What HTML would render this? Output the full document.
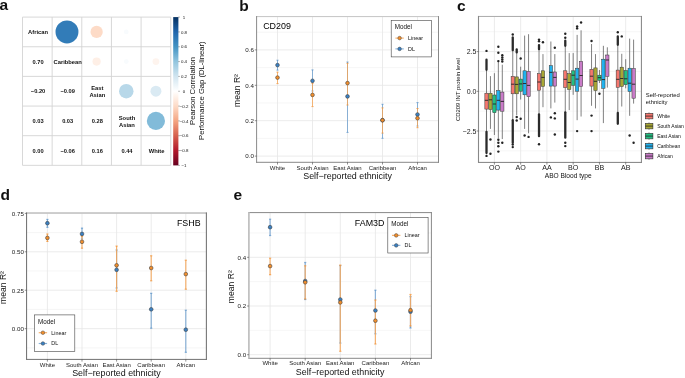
<!DOCTYPE html>
<html><head><meta charset="utf-8"><style>
html,body{margin:0;padding:0;background:#fff;}
svg{display:block;font-family:"Liberation Sans", sans-serif;will-change:transform;}
</style></head><body>
<svg width="685" height="378" viewBox="0 0 685 378">
<rect x="0" y="0" width="685" height="378" fill="#fff"/>
<text x="-0.60" y="10.20" font-size="15.5" text-anchor="start" font-weight="bold" fill="#111" >a</text>
<text x="239.20" y="10.60" font-size="15.5" text-anchor="start" font-weight="bold" fill="#111" >b</text>
<text x="457.00" y="10.70" font-size="15.5" text-anchor="start" font-weight="bold" fill="#111" >c</text>
<text x="0.60" y="200.30" font-size="15.5" text-anchor="start" font-weight="bold" fill="#111" >d</text>
<text x="233.60" y="200.40" font-size="15.5" text-anchor="start" font-weight="bold" fill="#111" >e</text>
<circle cx="66.97" cy="31.93" r="11.46" fill="#327cb8" stroke="none" stroke-width="0" />
<circle cx="96.62" cy="31.93" r="6.13" fill="#fddbc7" stroke="none" stroke-width="0" />
<circle cx="126.27" cy="31.93" r="2.37" fill="#f8fbfd" stroke="none" stroke-width="0" />
<circle cx="96.62" cy="61.57" r="4.11" fill="#feefe6" stroke="none" stroke-width="0" />
<circle cx="126.27" cy="61.57" r="2.37" fill="#f8fbfd" stroke="none" stroke-width="0" />
<circle cx="155.92" cy="61.57" r="3.36" fill="#fef4ee" stroke="none" stroke-width="0" />
<circle cx="126.27" cy="91.22" r="7.25" fill="#b8d8e9" stroke="none" stroke-width="0" />
<circle cx="155.92" cy="91.22" r="5.48" fill="#daeaf3" stroke="none" stroke-width="0" />
<circle cx="155.92" cy="120.88" r="9.09" fill="#82bbd9" stroke="none" stroke-width="0" />
<line x1="22.50" y1="17.10" x2="22.50" y2="165.35" stroke="#d4d4d4" stroke-width="0.9" />
<line x1="22.50" y1="17.10" x2="170.75" y2="17.10" stroke="#d4d4d4" stroke-width="0.9" />
<line x1="52.15" y1="17.10" x2="52.15" y2="165.35" stroke="#d4d4d4" stroke-width="0.9" />
<line x1="22.50" y1="46.75" x2="170.75" y2="46.75" stroke="#d4d4d4" stroke-width="0.9" />
<line x1="81.80" y1="17.10" x2="81.80" y2="165.35" stroke="#d4d4d4" stroke-width="0.9" />
<line x1="22.50" y1="76.40" x2="170.75" y2="76.40" stroke="#d4d4d4" stroke-width="0.9" />
<line x1="111.45" y1="17.10" x2="111.45" y2="165.35" stroke="#d4d4d4" stroke-width="0.9" />
<line x1="22.50" y1="106.05" x2="170.75" y2="106.05" stroke="#d4d4d4" stroke-width="0.9" />
<line x1="141.10" y1="17.10" x2="141.10" y2="165.35" stroke="#d4d4d4" stroke-width="0.9" />
<line x1="22.50" y1="135.70" x2="170.75" y2="135.70" stroke="#d4d4d4" stroke-width="0.9" />
<line x1="170.75" y1="17.10" x2="170.75" y2="165.35" stroke="#d4d4d4" stroke-width="0.9" />
<line x1="22.50" y1="165.35" x2="170.75" y2="165.35" stroke="#d4d4d4" stroke-width="0.9" />
<text x="38.03" y="34.02" font-size="5.8" text-anchor="middle" font-weight="bold" fill="#111" >African</text>
<text x="67.67" y="63.67" font-size="5.8" text-anchor="middle" font-weight="bold" fill="#111" >Caribbean</text>
<text x="97.33" y="89.92" font-size="5.8" text-anchor="middle" font-weight="bold" fill="#111" >East</text>
<text x="97.33" y="96.92" font-size="5.8" text-anchor="middle" font-weight="bold" fill="#111" >Asian</text>
<text x="126.97" y="119.58" font-size="5.8" text-anchor="middle" font-weight="bold" fill="#111" >South</text>
<text x="126.97" y="126.58" font-size="5.8" text-anchor="middle" font-weight="bold" fill="#111" >Asian</text>
<text x="156.62" y="152.62" font-size="5.8" text-anchor="middle" font-weight="bold" fill="#111" >White</text>
<text x="38.03" y="63.62" font-size="5.7" text-anchor="middle" font-weight="bold" fill="#111" >0.70</text>
<text x="38.03" y="93.27" font-size="5.7" text-anchor="middle" font-weight="bold" fill="#111" >−0.20</text>
<text x="38.03" y="122.92" font-size="5.7" text-anchor="middle" font-weight="bold" fill="#111" >0.03</text>
<text x="38.03" y="152.57" font-size="5.7" text-anchor="middle" font-weight="bold" fill="#111" >0.00</text>
<text x="67.67" y="93.27" font-size="5.7" text-anchor="middle" font-weight="bold" fill="#111" >−0.09</text>
<text x="67.67" y="122.92" font-size="5.7" text-anchor="middle" font-weight="bold" fill="#111" >0.03</text>
<text x="67.67" y="152.57" font-size="5.7" text-anchor="middle" font-weight="bold" fill="#111" >−0.06</text>
<text x="97.33" y="122.92" font-size="5.7" text-anchor="middle" font-weight="bold" fill="#111" >0.28</text>
<text x="97.33" y="152.57" font-size="5.7" text-anchor="middle" font-weight="bold" fill="#111" >0.16</text>
<text x="126.97" y="152.57" font-size="5.7" text-anchor="middle" font-weight="bold" fill="#111" >0.44</text>
<defs><linearGradient id="cb" x1="0" y1="1" x2="0" y2="0"><stop offset="0.00" stop-color="#67001F"/><stop offset="0.10" stop-color="#B2182B"/><stop offset="0.20" stop-color="#D6604D"/><stop offset="0.30" stop-color="#F4A582"/><stop offset="0.40" stop-color="#FDDBC7"/><stop offset="0.50" stop-color="#FFFFFF"/><stop offset="0.60" stop-color="#D1E5F0"/><stop offset="0.70" stop-color="#92C5DE"/><stop offset="0.80" stop-color="#4393C3"/><stop offset="0.90" stop-color="#2166AC"/><stop offset="1.00" stop-color="#053061"/></linearGradient></defs>
<rect x="173.20" y="17.10" width="5.20" height="148.30" fill="url(#cb)" stroke="none" stroke-width="0" />
<line x1="178.40" y1="17.10" x2="179.70" y2="17.10" stroke="#333" stroke-width="0.5" />
<text x="184.00" y="18.70" font-size="4.4" text-anchor="middle" fill="#111" >1</text>
<line x1="178.40" y1="31.93" x2="179.70" y2="31.93" stroke="#333" stroke-width="0.5" />
<text x="184.00" y="33.53" font-size="4.4" text-anchor="middle" fill="#111" >0.8</text>
<line x1="178.40" y1="46.76" x2="179.70" y2="46.76" stroke="#333" stroke-width="0.5" />
<text x="184.00" y="48.36" font-size="4.4" text-anchor="middle" fill="#111" >0.6</text>
<line x1="178.40" y1="61.59" x2="179.70" y2="61.59" stroke="#333" stroke-width="0.5" />
<text x="184.00" y="63.19" font-size="4.4" text-anchor="middle" fill="#111" >0.4</text>
<line x1="178.40" y1="76.42" x2="179.70" y2="76.42" stroke="#333" stroke-width="0.5" />
<text x="184.00" y="78.02" font-size="4.4" text-anchor="middle" fill="#111" >0.2</text>
<line x1="178.40" y1="91.25" x2="179.70" y2="91.25" stroke="#333" stroke-width="0.5" />
<text x="184.00" y="92.85" font-size="4.4" text-anchor="middle" fill="#111" >0</text>
<line x1="178.40" y1="106.08" x2="179.70" y2="106.08" stroke="#333" stroke-width="0.5" />
<text x="184.00" y="107.68" font-size="4.4" text-anchor="middle" fill="#111" >−0.2</text>
<line x1="178.40" y1="120.91" x2="179.70" y2="120.91" stroke="#333" stroke-width="0.5" />
<text x="184.00" y="122.51" font-size="4.4" text-anchor="middle" fill="#111" >−0.4</text>
<line x1="178.40" y1="135.74" x2="179.70" y2="135.74" stroke="#333" stroke-width="0.5" />
<text x="184.00" y="137.34" font-size="4.4" text-anchor="middle" fill="#111" >−0.6</text>
<line x1="178.40" y1="150.57" x2="179.70" y2="150.57" stroke="#333" stroke-width="0.5" />
<text x="184.00" y="152.17" font-size="4.4" text-anchor="middle" fill="#111" >−0.8</text>
<line x1="178.40" y1="165.40" x2="179.70" y2="165.40" stroke="#333" stroke-width="0.5" />
<text x="184.00" y="167.00" font-size="4.4" text-anchor="middle" fill="#111" >−1</text>
<text transform="translate(194.9,91) rotate(-90)" font-size="7.65" text-anchor="middle" fill="#111">Pearson Correlation</text>
<text transform="translate(203.6,90.7) rotate(-90)" font-size="7.65" text-anchor="middle" fill="#111">Performance Gap (DL-linear)</text>
<line x1="256.60" y1="138.40" x2="438.50" y2="138.40" stroke="#f0f0f0" stroke-width="0.6" />
<line x1="256.60" y1="103.00" x2="438.50" y2="103.00" stroke="#f0f0f0" stroke-width="0.6" />
<line x1="256.60" y1="67.60" x2="438.50" y2="67.60" stroke="#f0f0f0" stroke-width="0.6" />
<line x1="256.60" y1="32.20" x2="438.50" y2="32.20" stroke="#f0f0f0" stroke-width="0.6" />
<line x1="256.60" y1="156.10" x2="438.50" y2="156.10" stroke="#e6e6e6" stroke-width="0.8" />
<line x1="256.60" y1="120.70" x2="438.50" y2="120.70" stroke="#e6e6e6" stroke-width="0.8" />
<line x1="256.60" y1="85.30" x2="438.50" y2="85.30" stroke="#e6e6e6" stroke-width="0.8" />
<line x1="256.60" y1="49.90" x2="438.50" y2="49.90" stroke="#e6e6e6" stroke-width="0.8" />
<line x1="277.50" y1="16.60" x2="277.50" y2="162.30" stroke="#e6e6e6" stroke-width="0.8" />
<line x1="312.50" y1="16.60" x2="312.50" y2="162.30" stroke="#e6e6e6" stroke-width="0.8" />
<line x1="347.50" y1="16.60" x2="347.50" y2="162.30" stroke="#e6e6e6" stroke-width="0.8" />
<line x1="382.50" y1="16.60" x2="382.50" y2="162.30" stroke="#e6e6e6" stroke-width="0.8" />
<line x1="417.50" y1="16.60" x2="417.50" y2="162.30" stroke="#e6e6e6" stroke-width="0.8" />
<g stroke="#3a80c2" stroke-width="0.75" stroke-opacity="0.75">
<line x1="277.50" y1="60.20" x2="277.50" y2="70.10" stroke="#3a80c2" stroke-width="0.75" />
<line x1="276.40" y1="60.20" x2="278.60" y2="60.20" stroke="#3a80c2" stroke-width="0.75" />
<line x1="276.40" y1="70.10" x2="278.60" y2="70.10" stroke="#3a80c2" stroke-width="0.75" />
</g>
<g stroke="#3a80c2" stroke-width="0.75" stroke-opacity="0.75">
<line x1="312.50" y1="69.90" x2="312.50" y2="91.00" stroke="#3a80c2" stroke-width="0.75" />
<line x1="311.40" y1="69.90" x2="313.60" y2="69.90" stroke="#3a80c2" stroke-width="0.75" />
<line x1="311.40" y1="91.00" x2="313.60" y2="91.00" stroke="#3a80c2" stroke-width="0.75" />
</g>
<g stroke="#3a80c2" stroke-width="0.75" stroke-opacity="0.75">
<line x1="347.50" y1="62.00" x2="347.50" y2="132.40" stroke="#3a80c2" stroke-width="0.75" />
<line x1="346.40" y1="62.00" x2="348.60" y2="62.00" stroke="#3a80c2" stroke-width="0.75" />
<line x1="346.40" y1="132.40" x2="348.60" y2="132.40" stroke="#3a80c2" stroke-width="0.75" />
</g>
<g stroke="#3a80c2" stroke-width="0.75" stroke-opacity="0.75">
<line x1="382.50" y1="104.30" x2="382.50" y2="138.30" stroke="#3a80c2" stroke-width="0.75" />
<line x1="381.40" y1="104.30" x2="383.60" y2="104.30" stroke="#3a80c2" stroke-width="0.75" />
<line x1="381.40" y1="138.30" x2="383.60" y2="138.30" stroke="#3a80c2" stroke-width="0.75" />
</g>
<g stroke="#3a80c2" stroke-width="0.75" stroke-opacity="0.75">
<line x1="417.50" y1="102.60" x2="417.50" y2="126.00" stroke="#3a80c2" stroke-width="0.75" />
<line x1="416.40" y1="102.60" x2="418.60" y2="102.60" stroke="#3a80c2" stroke-width="0.75" />
<line x1="416.40" y1="126.00" x2="418.60" y2="126.00" stroke="#3a80c2" stroke-width="0.75" />
</g>
<line x1="277.50" y1="72.20" x2="277.50" y2="83.60" stroke="#fff" stroke-width="0.75" stroke-opacity="0.55"/>
<g stroke="#f28e2b" stroke-width="0.75" stroke-opacity="0.85">
<line x1="277.50" y1="72.20" x2="277.50" y2="83.60" stroke="#f28e2b" stroke-width="0.75" />
<line x1="276.40" y1="72.20" x2="278.60" y2="72.20" stroke="#f28e2b" stroke-width="0.75" />
<line x1="276.40" y1="83.60" x2="278.60" y2="83.60" stroke="#f28e2b" stroke-width="0.75" />
</g>
<line x1="312.50" y1="83.40" x2="312.50" y2="106.60" stroke="#fff" stroke-width="0.75" stroke-opacity="0.55"/>
<g stroke="#f28e2b" stroke-width="0.75" stroke-opacity="0.85">
<line x1="312.50" y1="83.40" x2="312.50" y2="106.60" stroke="#f28e2b" stroke-width="0.75" />
<line x1="311.40" y1="83.40" x2="313.60" y2="83.40" stroke="#f28e2b" stroke-width="0.75" />
<line x1="311.40" y1="106.60" x2="313.60" y2="106.60" stroke="#f28e2b" stroke-width="0.75" />
</g>
<line x1="347.50" y1="63.30" x2="347.50" y2="105.00" stroke="#fff" stroke-width="0.75" stroke-opacity="0.55"/>
<g stroke="#f28e2b" stroke-width="0.75" stroke-opacity="0.85">
<line x1="347.50" y1="63.30" x2="347.50" y2="105.00" stroke="#f28e2b" stroke-width="0.75" />
<line x1="346.40" y1="63.30" x2="348.60" y2="63.30" stroke="#f28e2b" stroke-width="0.75" />
<line x1="346.40" y1="105.00" x2="348.60" y2="105.00" stroke="#f28e2b" stroke-width="0.75" />
</g>
<line x1="382.50" y1="107.90" x2="382.50" y2="133.10" stroke="#fff" stroke-width="0.75" stroke-opacity="0.55"/>
<g stroke="#f28e2b" stroke-width="0.75" stroke-opacity="0.85">
<line x1="382.50" y1="107.90" x2="382.50" y2="133.10" stroke="#f28e2b" stroke-width="0.75" />
<line x1="381.40" y1="107.90" x2="383.60" y2="107.90" stroke="#f28e2b" stroke-width="0.75" />
<line x1="381.40" y1="133.10" x2="383.60" y2="133.10" stroke="#f28e2b" stroke-width="0.75" />
</g>
<line x1="417.50" y1="108.50" x2="417.50" y2="127.70" stroke="#fff" stroke-width="0.75" stroke-opacity="0.55"/>
<g stroke="#f28e2b" stroke-width="0.75" stroke-opacity="0.85">
<line x1="417.50" y1="108.50" x2="417.50" y2="127.70" stroke="#f28e2b" stroke-width="0.75" />
<line x1="416.40" y1="108.50" x2="418.60" y2="108.50" stroke="#f28e2b" stroke-width="0.75" />
<line x1="416.40" y1="127.70" x2="418.60" y2="127.70" stroke="#f28e2b" stroke-width="0.75" />
</g>
<circle cx="277.50" cy="65.10" r="1.85" fill="#3a80c2" stroke="#444" stroke-width="0.6" />
<circle cx="312.50" cy="80.80" r="1.85" fill="#3a80c2" stroke="#444" stroke-width="0.6" />
<circle cx="347.50" cy="96.40" r="1.85" fill="#3a80c2" stroke="#444" stroke-width="0.6" />
<circle cx="382.50" cy="120.20" r="1.85" fill="#3a80c2" stroke="#444" stroke-width="0.6" />
<circle cx="417.50" cy="114.50" r="1.85" fill="#3a80c2" stroke="#444" stroke-width="0.6" />
<circle cx="277.50" cy="77.60" r="1.85" fill="#f28e2b" stroke="#444" stroke-width="0.6" />
<circle cx="312.50" cy="94.90" r="1.85" fill="#f28e2b" stroke="#444" stroke-width="0.6" />
<circle cx="347.50" cy="83.10" r="1.85" fill="#f28e2b" stroke="#444" stroke-width="0.6" />
<circle cx="382.50" cy="120.20" r="1.85" fill="#f28e2b" stroke="#444" stroke-width="0.6" />
<circle cx="417.50" cy="118.20" r="1.85" fill="#f28e2b" stroke="#444" stroke-width="0.6" />
<line x1="256.10" y1="16.60" x2="439.00" y2="16.60" stroke="#c4c4c4" stroke-width="1.0" />
<line x1="256.10" y1="162.30" x2="439.00" y2="162.30" stroke="#888" stroke-width="1.0" />
<line x1="256.60" y1="16.10" x2="256.60" y2="162.80" stroke="#8a8a8a" stroke-width="1.0" />
<line x1="438.50" y1="16.10" x2="438.50" y2="162.80" stroke="#888" stroke-width="1.0" />
<line x1="254.80" y1="156.10" x2="256.60" y2="156.10" stroke="#444" stroke-width="0.6" />
<text x="253.90" y="158.40" font-size="6.2" text-anchor="end" fill="#222" >0.0</text>
<line x1="254.80" y1="120.70" x2="256.60" y2="120.70" stroke="#444" stroke-width="0.6" />
<text x="253.90" y="123.00" font-size="6.2" text-anchor="end" fill="#222" >0.2</text>
<line x1="254.80" y1="85.30" x2="256.60" y2="85.30" stroke="#444" stroke-width="0.6" />
<text x="253.90" y="87.60" font-size="6.2" text-anchor="end" fill="#222" >0.4</text>
<line x1="254.80" y1="49.90" x2="256.60" y2="49.90" stroke="#444" stroke-width="0.6" />
<text x="253.90" y="52.20" font-size="6.2" text-anchor="end" fill="#222" >0.6</text>
<line x1="277.50" y1="162.30" x2="277.50" y2="164.50" stroke="#444" stroke-width="0.6" />
<line x1="312.50" y1="162.30" x2="312.50" y2="164.50" stroke="#444" stroke-width="0.6" />
<line x1="347.50" y1="162.30" x2="347.50" y2="164.50" stroke="#444" stroke-width="0.6" />
<line x1="382.50" y1="162.30" x2="382.50" y2="164.50" stroke="#444" stroke-width="0.6" />
<line x1="417.50" y1="162.30" x2="417.50" y2="164.50" stroke="#444" stroke-width="0.6" />
<text x="277.50" y="170.10" font-size="6.0" text-anchor="middle" fill="#222" >White</text>
<text x="312.50" y="170.10" font-size="6.0" text-anchor="middle" fill="#222" >South Asian</text>
<text x="347.50" y="170.10" font-size="6.0" text-anchor="middle" fill="#222" >East Asian</text>
<text x="382.50" y="170.10" font-size="6.0" text-anchor="middle" fill="#222" >Caribbean</text>
<text x="417.50" y="170.10" font-size="6.0" text-anchor="middle" fill="#222" >African</text>
<text x="347.55" y="179.40" font-size="8.9" text-anchor="middle" fill="#111" >Self−reported ethnicity</text>
<text transform="translate(240.0,90.5) rotate(-90)" font-size="8.6" text-anchor="middle" fill="#111">mean R²</text>
<text x="263.20" y="29.00" font-size="8.9" text-anchor="start" fill="#000" >CD209</text>
<rect x="391.20" y="20.30" width="40.30" height="36.60" fill="#fff" stroke="#444" stroke-width="0.6" />
<text x="394.70" y="28.90" font-size="6.3" text-anchor="start" fill="#111" >Model</text>
<line x1="395.40" y1="38.10" x2="403.80" y2="38.10" stroke="#f28e2b" stroke-width="0.9" stroke-opacity="0.85"/>
<circle cx="399.60" cy="38.10" r="1.80" fill="#f28e2b" stroke="#444" stroke-width="0.5" />
<text x="408.00" y="40.05" font-size="5.4" text-anchor="start" fill="#111" >Linear</text>
<line x1="395.40" y1="48.90" x2="403.80" y2="48.90" stroke="#3a80c2" stroke-width="0.9" stroke-opacity="0.75"/>
<circle cx="399.60" cy="48.90" r="1.80" fill="#3a80c2" stroke="#444" stroke-width="0.5" />
<text x="408.00" y="50.85" font-size="5.4" text-anchor="start" fill="#111" >DL</text>
<line x1="26.55" y1="347.86" x2="206.40" y2="347.86" stroke="#f0f0f0" stroke-width="0.6" />
<line x1="26.55" y1="309.44" x2="206.40" y2="309.44" stroke="#f0f0f0" stroke-width="0.6" />
<line x1="26.55" y1="271.01" x2="206.40" y2="271.01" stroke="#f0f0f0" stroke-width="0.6" />
<line x1="26.55" y1="232.59" x2="206.40" y2="232.59" stroke="#f0f0f0" stroke-width="0.6" />
<line x1="26.55" y1="328.65" x2="206.40" y2="328.65" stroke="#e6e6e6" stroke-width="0.8" />
<line x1="26.55" y1="290.22" x2="206.40" y2="290.22" stroke="#e6e6e6" stroke-width="0.8" />
<line x1="26.55" y1="251.80" x2="206.40" y2="251.80" stroke="#e6e6e6" stroke-width="0.8" />
<line x1="26.55" y1="213.38" x2="206.40" y2="213.38" stroke="#e6e6e6" stroke-width="0.8" />
<line x1="47.40" y1="213.00" x2="47.40" y2="359.40" stroke="#e6e6e6" stroke-width="0.8" />
<line x1="82.00" y1="213.00" x2="82.00" y2="359.40" stroke="#e6e6e6" stroke-width="0.8" />
<line x1="116.60" y1="213.00" x2="116.60" y2="359.40" stroke="#e6e6e6" stroke-width="0.8" />
<line x1="151.20" y1="213.00" x2="151.20" y2="359.40" stroke="#e6e6e6" stroke-width="0.8" />
<line x1="185.80" y1="213.00" x2="185.80" y2="359.40" stroke="#e6e6e6" stroke-width="0.8" />
<g stroke="#3a80c2" stroke-width="1.15" stroke-opacity="0.6">
<line x1="47.40" y1="219.40" x2="47.40" y2="227.30" stroke="#3a80c2" stroke-width="1.15" />
<line x1="46.30" y1="219.40" x2="48.50" y2="219.40" stroke="#3a80c2" stroke-width="1.15" />
<line x1="46.30" y1="227.30" x2="48.50" y2="227.30" stroke="#3a80c2" stroke-width="1.15" />
</g>
<g stroke="#3a80c2" stroke-width="1.15" stroke-opacity="0.6">
<line x1="82.00" y1="228.10" x2="82.00" y2="239.00" stroke="#3a80c2" stroke-width="1.15" />
<line x1="80.90" y1="228.10" x2="83.10" y2="228.10" stroke="#3a80c2" stroke-width="1.15" />
<line x1="80.90" y1="239.00" x2="83.10" y2="239.00" stroke="#3a80c2" stroke-width="1.15" />
</g>
<g stroke="#3a80c2" stroke-width="1.15" stroke-opacity="0.6">
<line x1="116.60" y1="250.00" x2="116.60" y2="288.00" stroke="#3a80c2" stroke-width="1.15" />
<line x1="115.50" y1="250.00" x2="117.70" y2="250.00" stroke="#3a80c2" stroke-width="1.15" />
<line x1="115.50" y1="288.00" x2="117.70" y2="288.00" stroke="#3a80c2" stroke-width="1.15" />
</g>
<g stroke="#3a80c2" stroke-width="1.15" stroke-opacity="0.6">
<line x1="151.20" y1="293.30" x2="151.20" y2="328.20" stroke="#3a80c2" stroke-width="1.15" />
<line x1="150.10" y1="293.30" x2="152.30" y2="293.30" stroke="#3a80c2" stroke-width="1.15" />
<line x1="150.10" y1="328.20" x2="152.30" y2="328.20" stroke="#3a80c2" stroke-width="1.15" />
</g>
<g stroke="#3a80c2" stroke-width="1.15" stroke-opacity="0.6">
<line x1="185.80" y1="310.20" x2="185.80" y2="352.30" stroke="#3a80c2" stroke-width="1.15" />
<line x1="184.70" y1="310.20" x2="186.90" y2="310.20" stroke="#3a80c2" stroke-width="1.15" />
<line x1="184.70" y1="352.30" x2="186.90" y2="352.30" stroke="#3a80c2" stroke-width="1.15" />
</g>
<line x1="47.40" y1="234.00" x2="47.40" y2="241.40" stroke="#fff" stroke-width="1.15" stroke-opacity="0.55"/>
<g stroke="#f28e2b" stroke-width="1.15" stroke-opacity="0.7">
<line x1="47.40" y1="234.00" x2="47.40" y2="241.40" stroke="#f28e2b" stroke-width="1.15" />
<line x1="46.30" y1="234.00" x2="48.50" y2="234.00" stroke="#f28e2b" stroke-width="1.15" />
<line x1="46.30" y1="241.40" x2="48.50" y2="241.40" stroke="#f28e2b" stroke-width="1.15" />
</g>
<line x1="82.00" y1="236.50" x2="82.00" y2="248.20" stroke="#fff" stroke-width="1.15" stroke-opacity="0.55"/>
<g stroke="#f28e2b" stroke-width="1.15" stroke-opacity="0.7">
<line x1="82.00" y1="236.50" x2="82.00" y2="248.20" stroke="#f28e2b" stroke-width="1.15" />
<line x1="80.90" y1="236.50" x2="83.10" y2="236.50" stroke="#f28e2b" stroke-width="1.15" />
<line x1="80.90" y1="248.20" x2="83.10" y2="248.20" stroke="#f28e2b" stroke-width="1.15" />
</g>
<line x1="116.60" y1="246.10" x2="116.60" y2="291.30" stroke="#fff" stroke-width="1.15" stroke-opacity="0.55"/>
<g stroke="#f28e2b" stroke-width="1.15" stroke-opacity="0.7">
<line x1="116.60" y1="246.10" x2="116.60" y2="291.30" stroke="#f28e2b" stroke-width="1.15" />
<line x1="115.50" y1="246.10" x2="117.70" y2="246.10" stroke="#f28e2b" stroke-width="1.15" />
<line x1="115.50" y1="291.30" x2="117.70" y2="291.30" stroke="#f28e2b" stroke-width="1.15" />
</g>
<line x1="151.20" y1="255.80" x2="151.20" y2="280.80" stroke="#fff" stroke-width="1.15" stroke-opacity="0.55"/>
<g stroke="#f28e2b" stroke-width="1.15" stroke-opacity="0.7">
<line x1="151.20" y1="255.80" x2="151.20" y2="280.80" stroke="#f28e2b" stroke-width="1.15" />
<line x1="150.10" y1="255.80" x2="152.30" y2="255.80" stroke="#f28e2b" stroke-width="1.15" />
<line x1="150.10" y1="280.80" x2="152.30" y2="280.80" stroke="#f28e2b" stroke-width="1.15" />
</g>
<line x1="185.80" y1="260.20" x2="185.80" y2="289.20" stroke="#fff" stroke-width="1.15" stroke-opacity="0.55"/>
<g stroke="#f28e2b" stroke-width="1.15" stroke-opacity="0.7">
<line x1="185.80" y1="260.20" x2="185.80" y2="289.20" stroke="#f28e2b" stroke-width="1.15" />
<line x1="184.70" y1="260.20" x2="186.90" y2="260.20" stroke="#f28e2b" stroke-width="1.15" />
<line x1="184.70" y1="289.20" x2="186.90" y2="289.20" stroke="#f28e2b" stroke-width="1.15" />
</g>
<circle cx="47.40" cy="223.20" r="1.85" fill="#3a80c2" stroke="#444" stroke-width="0.6" />
<circle cx="82.00" cy="233.90" r="1.85" fill="#3a80c2" stroke="#444" stroke-width="0.6" />
<circle cx="116.60" cy="269.80" r="1.85" fill="#3a80c2" stroke="#444" stroke-width="0.6" />
<circle cx="151.20" cy="309.30" r="1.85" fill="#3a80c2" stroke="#444" stroke-width="0.6" />
<circle cx="185.80" cy="329.70" r="1.85" fill="#3a80c2" stroke="#444" stroke-width="0.6" />
<circle cx="47.40" cy="237.90" r="1.85" fill="#f28e2b" stroke="#444" stroke-width="0.6" />
<circle cx="82.00" cy="241.80" r="1.85" fill="#f28e2b" stroke="#444" stroke-width="0.6" />
<circle cx="116.60" cy="265.30" r="1.85" fill="#f28e2b" stroke="#444" stroke-width="0.6" />
<circle cx="151.20" cy="268.00" r="1.85" fill="#f28e2b" stroke="#444" stroke-width="0.6" />
<circle cx="185.80" cy="274.10" r="1.85" fill="#f28e2b" stroke="#444" stroke-width="0.6" />
<line x1="26.05" y1="213.00" x2="206.90" y2="213.00" stroke="#c0c0c0" stroke-width="1.7" />
<line x1="26.05" y1="359.40" x2="206.90" y2="359.40" stroke="#707070" stroke-width="1.0" />
<line x1="26.55" y1="212.50" x2="26.55" y2="359.90" stroke="#777" stroke-width="1.1" />
<line x1="206.40" y1="212.50" x2="206.40" y2="359.90" stroke="#777" stroke-width="1.1" />
<line x1="24.75" y1="328.65" x2="26.55" y2="328.65" stroke="#444" stroke-width="0.6" />
<text x="23.85" y="330.95" font-size="6.2" text-anchor="end" fill="#222" >0.00</text>
<line x1="24.75" y1="290.22" x2="26.55" y2="290.22" stroke="#444" stroke-width="0.6" />
<text x="23.85" y="292.52" font-size="6.2" text-anchor="end" fill="#222" >0.25</text>
<line x1="24.75" y1="251.80" x2="26.55" y2="251.80" stroke="#444" stroke-width="0.6" />
<text x="23.85" y="254.10" font-size="6.2" text-anchor="end" fill="#222" >0.50</text>
<line x1="24.75" y1="213.38" x2="26.55" y2="213.38" stroke="#444" stroke-width="0.6" />
<text x="23.85" y="215.68" font-size="6.2" text-anchor="end" fill="#222" >0.75</text>
<line x1="47.40" y1="359.40" x2="47.40" y2="361.60" stroke="#444" stroke-width="0.6" />
<line x1="82.00" y1="359.40" x2="82.00" y2="361.60" stroke="#444" stroke-width="0.6" />
<line x1="116.60" y1="359.40" x2="116.60" y2="361.60" stroke="#444" stroke-width="0.6" />
<line x1="151.20" y1="359.40" x2="151.20" y2="361.60" stroke="#444" stroke-width="0.6" />
<line x1="185.80" y1="359.40" x2="185.80" y2="361.60" stroke="#444" stroke-width="0.6" />
<text x="47.40" y="366.90" font-size="6.0" text-anchor="middle" fill="#222" >White</text>
<text x="82.00" y="366.90" font-size="6.0" text-anchor="middle" fill="#222" >South Asian</text>
<text x="116.60" y="366.90" font-size="6.0" text-anchor="middle" fill="#222" >East Asian</text>
<text x="151.20" y="366.90" font-size="6.0" text-anchor="middle" fill="#222" >Caribbean</text>
<text x="185.80" y="366.90" font-size="6.0" text-anchor="middle" fill="#222" >African</text>
<text x="116.48" y="376.20" font-size="8.9" text-anchor="middle" fill="#111" >Self−reported ethnicity</text>
<text transform="translate(5.6,287.5) rotate(-90)" font-size="8.6" text-anchor="middle" fill="#111">mean R²</text>
<text x="200.60" y="226.20" font-size="8.9" text-anchor="end" fill="#000" >FSHB</text>
<rect x="34.50" y="314.90" width="40.30" height="36.60" fill="#fff" stroke="#444" stroke-width="0.6" />
<text x="38.00" y="323.50" font-size="6.3" text-anchor="start" fill="#111" >Model</text>
<line x1="38.70" y1="332.70" x2="47.10" y2="332.70" stroke="#f28e2b" stroke-width="1.15" stroke-opacity="0.7"/>
<circle cx="42.90" cy="332.70" r="1.80" fill="#f28e2b" stroke="#444" stroke-width="0.5" />
<text x="51.30" y="334.65" font-size="5.4" text-anchor="start" fill="#111" >Linear</text>
<line x1="38.70" y1="343.50" x2="47.10" y2="343.50" stroke="#3a80c2" stroke-width="1.15" stroke-opacity="0.6"/>
<circle cx="42.90" cy="343.50" r="1.80" fill="#3a80c2" stroke="#444" stroke-width="0.5" />
<text x="51.30" y="345.45" font-size="5.4" text-anchor="start" fill="#111" >DL</text>
<line x1="248.90" y1="330.35" x2="431.40" y2="330.35" stroke="#f0f0f0" stroke-width="0.6" />
<line x1="248.90" y1="281.65" x2="431.40" y2="281.65" stroke="#f0f0f0" stroke-width="0.6" />
<line x1="248.90" y1="232.95" x2="431.40" y2="232.95" stroke="#f0f0f0" stroke-width="0.6" />
<line x1="248.90" y1="354.70" x2="431.40" y2="354.70" stroke="#e6e6e6" stroke-width="0.8" />
<line x1="248.90" y1="306.00" x2="431.40" y2="306.00" stroke="#e6e6e6" stroke-width="0.8" />
<line x1="248.90" y1="257.30" x2="431.40" y2="257.30" stroke="#e6e6e6" stroke-width="0.8" />
<line x1="270.10" y1="212.60" x2="270.10" y2="358.30" stroke="#e6e6e6" stroke-width="0.8" />
<line x1="305.20" y1="212.60" x2="305.20" y2="358.30" stroke="#e6e6e6" stroke-width="0.8" />
<line x1="340.30" y1="212.60" x2="340.30" y2="358.30" stroke="#e6e6e6" stroke-width="0.8" />
<line x1="375.40" y1="212.60" x2="375.40" y2="358.30" stroke="#e6e6e6" stroke-width="0.8" />
<line x1="410.50" y1="212.60" x2="410.50" y2="358.30" stroke="#e6e6e6" stroke-width="0.8" />
<g stroke="#3a80c2" stroke-width="1.25" stroke-opacity="0.55">
<line x1="270.10" y1="219.20" x2="270.10" y2="235.50" stroke="#3a80c2" stroke-width="1.25" />
<line x1="269.00" y1="219.20" x2="271.20" y2="219.20" stroke="#3a80c2" stroke-width="1.25" />
<line x1="269.00" y1="235.50" x2="271.20" y2="235.50" stroke="#3a80c2" stroke-width="1.25" />
</g>
<g stroke="#3a80c2" stroke-width="1.25" stroke-opacity="0.55">
<line x1="305.20" y1="262.50" x2="305.20" y2="299.50" stroke="#3a80c2" stroke-width="1.25" />
<line x1="304.10" y1="262.50" x2="306.30" y2="262.50" stroke="#3a80c2" stroke-width="1.25" />
<line x1="304.10" y1="299.50" x2="306.30" y2="299.50" stroke="#3a80c2" stroke-width="1.25" />
</g>
<g stroke="#3a80c2" stroke-width="1.25" stroke-opacity="0.55">
<line x1="340.30" y1="265.60" x2="340.30" y2="343.10" stroke="#3a80c2" stroke-width="1.25" />
<line x1="339.20" y1="265.60" x2="341.40" y2="265.60" stroke="#3a80c2" stroke-width="1.25" />
<line x1="339.20" y1="343.10" x2="341.40" y2="343.10" stroke="#3a80c2" stroke-width="1.25" />
</g>
<g stroke="#3a80c2" stroke-width="1.25" stroke-opacity="0.55">
<line x1="375.40" y1="290.20" x2="375.40" y2="333.80" stroke="#3a80c2" stroke-width="1.25" />
<line x1="374.30" y1="290.20" x2="376.50" y2="290.20" stroke="#3a80c2" stroke-width="1.25" />
<line x1="374.30" y1="333.80" x2="376.50" y2="333.80" stroke="#3a80c2" stroke-width="1.25" />
</g>
<g stroke="#3a80c2" stroke-width="1.25" stroke-opacity="0.55">
<line x1="410.50" y1="296.60" x2="410.50" y2="328.00" stroke="#3a80c2" stroke-width="1.25" />
<line x1="409.40" y1="296.60" x2="411.60" y2="296.60" stroke="#3a80c2" stroke-width="1.25" />
<line x1="409.40" y1="328.00" x2="411.60" y2="328.00" stroke="#3a80c2" stroke-width="1.25" />
</g>
<line x1="270.10" y1="258.20" x2="270.10" y2="274.70" stroke="#fff" stroke-width="1.25" stroke-opacity="0.55"/>
<g stroke="#f28e2b" stroke-width="1.25" stroke-opacity="0.65">
<line x1="270.10" y1="258.20" x2="270.10" y2="274.70" stroke="#f28e2b" stroke-width="1.25" />
<line x1="269.00" y1="258.20" x2="271.20" y2="258.20" stroke="#f28e2b" stroke-width="1.25" />
<line x1="269.00" y1="274.70" x2="271.20" y2="274.70" stroke="#f28e2b" stroke-width="1.25" />
</g>
<line x1="305.20" y1="265.80" x2="305.20" y2="299.00" stroke="#fff" stroke-width="1.25" stroke-opacity="0.55"/>
<g stroke="#f28e2b" stroke-width="1.25" stroke-opacity="0.65">
<line x1="305.20" y1="265.80" x2="305.20" y2="299.00" stroke="#f28e2b" stroke-width="1.25" />
<line x1="304.10" y1="265.80" x2="306.30" y2="265.80" stroke="#f28e2b" stroke-width="1.25" />
<line x1="304.10" y1="299.00" x2="306.30" y2="299.00" stroke="#f28e2b" stroke-width="1.25" />
</g>
<line x1="340.30" y1="265.10" x2="340.30" y2="351.30" stroke="#fff" stroke-width="1.25" stroke-opacity="0.55"/>
<g stroke="#f28e2b" stroke-width="1.25" stroke-opacity="0.65">
<line x1="340.30" y1="265.10" x2="340.30" y2="351.30" stroke="#f28e2b" stroke-width="1.25" />
<line x1="339.20" y1="265.10" x2="341.40" y2="265.10" stroke="#f28e2b" stroke-width="1.25" />
<line x1="339.20" y1="351.30" x2="341.40" y2="351.30" stroke="#f28e2b" stroke-width="1.25" />
</g>
<line x1="375.40" y1="300.00" x2="375.40" y2="344.00" stroke="#fff" stroke-width="1.25" stroke-opacity="0.55"/>
<g stroke="#f28e2b" stroke-width="1.25" stroke-opacity="0.65">
<line x1="375.40" y1="300.00" x2="375.40" y2="344.00" stroke="#f28e2b" stroke-width="1.25" />
<line x1="374.30" y1="300.00" x2="376.50" y2="300.00" stroke="#f28e2b" stroke-width="1.25" />
<line x1="374.30" y1="344.00" x2="376.50" y2="344.00" stroke="#f28e2b" stroke-width="1.25" />
</g>
<line x1="410.50" y1="294.50" x2="410.50" y2="326.00" stroke="#fff" stroke-width="1.25" stroke-opacity="0.55"/>
<g stroke="#f28e2b" stroke-width="1.25" stroke-opacity="0.65">
<line x1="410.50" y1="294.50" x2="410.50" y2="326.00" stroke="#f28e2b" stroke-width="1.25" />
<line x1="409.40" y1="294.50" x2="411.60" y2="294.50" stroke="#f28e2b" stroke-width="1.25" />
<line x1="409.40" y1="326.00" x2="411.60" y2="326.00" stroke="#f28e2b" stroke-width="1.25" />
</g>
<circle cx="270.10" cy="227.20" r="1.85" fill="#3a80c2" stroke="#444" stroke-width="0.6" />
<circle cx="305.20" cy="281.00" r="1.85" fill="#3a80c2" stroke="#444" stroke-width="0.6" />
<circle cx="340.30" cy="299.50" r="1.85" fill="#3a80c2" stroke="#444" stroke-width="0.6" />
<circle cx="375.40" cy="310.50" r="1.85" fill="#3a80c2" stroke="#444" stroke-width="0.6" />
<circle cx="410.50" cy="311.70" r="1.85" fill="#3a80c2" stroke="#444" stroke-width="0.6" />
<circle cx="270.10" cy="266.10" r="1.85" fill="#f28e2b" stroke="#444" stroke-width="0.6" />
<circle cx="305.20" cy="282.30" r="1.85" fill="#f28e2b" stroke="#444" stroke-width="0.6" />
<circle cx="340.30" cy="302.40" r="1.85" fill="#f28e2b" stroke="#444" stroke-width="0.6" />
<circle cx="375.40" cy="320.70" r="1.85" fill="#f28e2b" stroke="#444" stroke-width="0.6" />
<circle cx="410.50" cy="310.20" r="1.85" fill="#f28e2b" stroke="#444" stroke-width="0.6" />
<line x1="248.40" y1="212.60" x2="431.90" y2="212.60" stroke="#888" stroke-width="1.0" />
<line x1="248.40" y1="358.30" x2="431.90" y2="358.30" stroke="#888" stroke-width="1.0" />
<line x1="248.90" y1="212.10" x2="248.90" y2="358.80" stroke="#bbb" stroke-width="1.6" />
<line x1="431.40" y1="212.10" x2="431.40" y2="358.80" stroke="#888" stroke-width="1.0" />
<line x1="247.10" y1="354.70" x2="248.90" y2="354.70" stroke="#444" stroke-width="0.6" />
<text x="246.20" y="357.00" font-size="6.2" text-anchor="end" fill="#222" >0.0</text>
<line x1="247.10" y1="306.00" x2="248.90" y2="306.00" stroke="#444" stroke-width="0.6" />
<text x="246.20" y="308.30" font-size="6.2" text-anchor="end" fill="#222" >0.2</text>
<line x1="247.10" y1="257.30" x2="248.90" y2="257.30" stroke="#444" stroke-width="0.6" />
<text x="246.20" y="259.60" font-size="6.2" text-anchor="end" fill="#222" >0.4</text>
<line x1="270.10" y1="358.30" x2="270.10" y2="360.50" stroke="#444" stroke-width="0.6" />
<line x1="305.20" y1="358.30" x2="305.20" y2="360.50" stroke="#444" stroke-width="0.6" />
<line x1="340.30" y1="358.30" x2="340.30" y2="360.50" stroke="#444" stroke-width="0.6" />
<line x1="375.40" y1="358.30" x2="375.40" y2="360.50" stroke="#444" stroke-width="0.6" />
<line x1="410.50" y1="358.30" x2="410.50" y2="360.50" stroke="#444" stroke-width="0.6" />
<text x="270.10" y="364.80" font-size="6.0" text-anchor="middle" fill="#222" >White</text>
<text x="305.20" y="364.80" font-size="6.0" text-anchor="middle" fill="#222" >South Asian</text>
<text x="340.30" y="364.80" font-size="6.0" text-anchor="middle" fill="#222" >East Asian</text>
<text x="375.40" y="364.80" font-size="6.0" text-anchor="middle" fill="#222" >Caribbean</text>
<text x="410.50" y="364.80" font-size="6.0" text-anchor="middle" fill="#222" >African</text>
<text x="340.15" y="374.50" font-size="8.9" text-anchor="middle" fill="#111" >Self−reported ethnicity</text>
<text transform="translate(233.6,286.7) rotate(-90)" font-size="8.6" text-anchor="middle" fill="#111">mean R²</text>
<text x="384.40" y="226.00" font-size="8.9" text-anchor="end" fill="#000" >FAM3D</text>
<rect x="387.80" y="217.60" width="40.30" height="35.40" fill="#fff" stroke="#444" stroke-width="0.6" />
<text x="391.30" y="226.20" font-size="6.3" text-anchor="start" fill="#111" >Model</text>
<line x1="392.00" y1="235.40" x2="400.40" y2="235.40" stroke="#f28e2b" stroke-width="1.25" stroke-opacity="0.65"/>
<circle cx="396.20" cy="235.40" r="1.80" fill="#f28e2b" stroke="#444" stroke-width="0.5" />
<text x="404.60" y="237.35" font-size="5.4" text-anchor="start" fill="#111" >Linear</text>
<line x1="392.00" y1="245.40" x2="400.40" y2="245.40" stroke="#3a80c2" stroke-width="1.25" stroke-opacity="0.55"/>
<circle cx="396.20" cy="245.40" r="1.80" fill="#3a80c2" stroke="#444" stroke-width="0.5" />
<text x="404.60" y="247.35" font-size="5.4" text-anchor="start" fill="#111" >DL</text>
<line x1="478.50" y1="150.85" x2="641.40" y2="150.85" stroke="#f0f0f0" stroke-width="0.6" />
<line x1="478.50" y1="111.15" x2="641.40" y2="111.15" stroke="#f0f0f0" stroke-width="0.6" />
<line x1="478.50" y1="71.45" x2="641.40" y2="71.45" stroke="#f0f0f0" stroke-width="0.6" />
<line x1="478.50" y1="31.75" x2="641.40" y2="31.75" stroke="#f0f0f0" stroke-width="0.6" />
<line x1="478.50" y1="131.00" x2="641.40" y2="131.00" stroke="#e6e6e6" stroke-width="0.8" />
<line x1="478.50" y1="91.30" x2="641.40" y2="91.30" stroke="#e6e6e6" stroke-width="0.8" />
<line x1="478.50" y1="51.60" x2="641.40" y2="51.60" stroke="#e6e6e6" stroke-width="0.8" />
<line x1="494.40" y1="16.45" x2="494.40" y2="162.40" stroke="#e6e6e6" stroke-width="0.8" />
<line x1="520.66" y1="16.45" x2="520.66" y2="162.40" stroke="#e6e6e6" stroke-width="0.8" />
<line x1="546.92" y1="16.45" x2="546.92" y2="162.40" stroke="#e6e6e6" stroke-width="0.8" />
<line x1="573.18" y1="16.45" x2="573.18" y2="162.40" stroke="#e6e6e6" stroke-width="0.8" />
<line x1="599.44" y1="16.45" x2="599.44" y2="162.40" stroke="#e6e6e6" stroke-width="0.8" />
<line x1="625.70" y1="16.45" x2="625.70" y2="162.40" stroke="#e6e6e6" stroke-width="0.8" />
<line x1="486.50" y1="69.80" x2="486.50" y2="93.20" stroke="#4a4a4a" stroke-width="0.7" />
<line x1="486.50" y1="109.10" x2="486.50" y2="131.80" stroke="#4a4a4a" stroke-width="0.7" />
<rect x="484.85" y="93.20" width="3.30" height="15.90" fill="#F6776F" stroke="#333" stroke-width="0.5" />
<line x1="484.85" y1="100.30" x2="488.15" y2="100.30" stroke="#222" stroke-width="0.9" />
<line x1="486.50" y1="59.70" x2="486.50" y2="69.80" stroke="#2a2a2a" stroke-width="2.3" stroke-linecap="round"/>
<line x1="486.50" y1="131.80" x2="486.50" y2="153.00" stroke="#2a2a2a" stroke-width="2.3" stroke-linecap="round"/>
<circle cx="486.50" cy="50.90" r="1.20" fill="#222" stroke="none" stroke-width="0" />
<circle cx="486.50" cy="155.90" r="1.20" fill="#222" stroke="none" stroke-width="0" />
<line x1="490.45" y1="76.10" x2="490.45" y2="93.20" stroke="#4a4a4a" stroke-width="0.7" />
<line x1="490.45" y1="109.50" x2="490.45" y2="128.90" stroke="#4a4a4a" stroke-width="0.7" />
<rect x="488.80" y="93.20" width="3.30" height="16.30" fill="#A8A734" stroke="#333" stroke-width="0.5" />
<line x1="488.80" y1="99.80" x2="492.10" y2="99.80" stroke="#222" stroke-width="0.9" />
<circle cx="490.45" cy="139.50" r="1.20" fill="#222" stroke="none" stroke-width="0" />
<circle cx="490.45" cy="153.70" r="1.20" fill="#222" stroke="none" stroke-width="0" />
<line x1="494.40" y1="73.20" x2="494.40" y2="95.00" stroke="#4a4a4a" stroke-width="0.7" />
<line x1="494.40" y1="112.70" x2="494.40" y2="135.00" stroke="#4a4a4a" stroke-width="0.7" />
<rect x="492.75" y="95.00" width="3.30" height="17.70" fill="#22BF82" stroke="#333" stroke-width="0.5" />
<line x1="492.75" y1="104.00" x2="496.05" y2="104.00" stroke="#222" stroke-width="0.9" />
<line x1="498.35" y1="61.10" x2="498.35" y2="90.50" stroke="#4a4a4a" stroke-width="0.7" />
<line x1="498.35" y1="110.10" x2="498.35" y2="138.40" stroke="#4a4a4a" stroke-width="0.7" />
<rect x="496.70" y="90.50" width="3.30" height="19.60" fill="#22B2EE" stroke="#333" stroke-width="0.5" />
<line x1="496.70" y1="100.30" x2="500.00" y2="100.30" stroke="#222" stroke-width="0.9" />
<circle cx="498.35" cy="46.70" r="1.20" fill="#222" stroke="none" stroke-width="0" />
<circle cx="498.35" cy="52.80" r="1.20" fill="#222" stroke="none" stroke-width="0" />
<circle cx="498.35" cy="61.10" r="1.20" fill="#222" stroke="none" stroke-width="0" />
<circle cx="498.35" cy="139.70" r="1.20" fill="#222" stroke="none" stroke-width="0" />
<circle cx="498.35" cy="142.70" r="1.20" fill="#222" stroke="none" stroke-width="0" />
<circle cx="498.35" cy="146.30" r="1.20" fill="#222" stroke="none" stroke-width="0" />
<circle cx="498.35" cy="151.60" r="1.20" fill="#222" stroke="none" stroke-width="0" />
<line x1="502.30" y1="64.70" x2="502.30" y2="92.10" stroke="#4a4a4a" stroke-width="0.7" />
<line x1="502.30" y1="111.20" x2="502.30" y2="139.10" stroke="#4a4a4a" stroke-width="0.7" />
<rect x="500.65" y="92.10" width="3.30" height="19.10" fill="#C97BC8" stroke="#333" stroke-width="0.5" />
<line x1="500.65" y1="101.40" x2="503.95" y2="101.40" stroke="#222" stroke-width="0.9" />
<circle cx="502.30" cy="55.30" r="1.20" fill="#222" stroke="none" stroke-width="0" />
<circle cx="502.30" cy="57.40" r="1.20" fill="#222" stroke="none" stroke-width="0" />
<circle cx="502.30" cy="59.40" r="1.20" fill="#222" stroke="none" stroke-width="0" />
<circle cx="502.30" cy="61.50" r="1.20" fill="#222" stroke="none" stroke-width="0" />
<circle cx="502.30" cy="142.80" r="1.20" fill="#222" stroke="none" stroke-width="0" />
<line x1="512.76" y1="50.20" x2="512.76" y2="76.40" stroke="#4a4a4a" stroke-width="0.7" />
<line x1="512.76" y1="93.80" x2="512.76" y2="120.20" stroke="#4a4a4a" stroke-width="0.7" />
<rect x="511.11" y="76.40" width="3.30" height="17.40" fill="#F6776F" stroke="#333" stroke-width="0.5" />
<line x1="511.11" y1="84.20" x2="514.41" y2="84.20" stroke="#222" stroke-width="0.9" />
<line x1="512.76" y1="37.50" x2="512.76" y2="50.20" stroke="#2a2a2a" stroke-width="2.3" stroke-linecap="round"/>
<line x1="512.76" y1="120.20" x2="512.76" y2="142.80" stroke="#2a2a2a" stroke-width="2.3" stroke-linecap="round"/>
<circle cx="512.76" cy="34.50" r="1.20" fill="#222" stroke="none" stroke-width="0" />
<circle cx="512.76" cy="144.50" r="1.20" fill="#222" stroke="none" stroke-width="0" />
<circle cx="512.76" cy="147.10" r="1.20" fill="#222" stroke="none" stroke-width="0" />
<line x1="516.71" y1="52.40" x2="516.71" y2="76.90" stroke="#4a4a4a" stroke-width="0.7" />
<line x1="516.71" y1="93.80" x2="516.71" y2="115.00" stroke="#4a4a4a" stroke-width="0.7" />
<rect x="515.06" y="76.90" width="3.30" height="16.90" fill="#A8A734" stroke="#333" stroke-width="0.5" />
<line x1="515.06" y1="84.40" x2="518.36" y2="84.40" stroke="#222" stroke-width="0.9" />
<line x1="516.71" y1="49.50" x2="516.71" y2="52.40" stroke="#2a2a2a" stroke-width="2.3" stroke-linecap="round"/>
<circle cx="516.71" cy="117.00" r="1.20" fill="#222" stroke="none" stroke-width="0" />
<circle cx="516.71" cy="120.50" r="1.20" fill="#222" stroke="none" stroke-width="0" />
<line x1="520.66" y1="66.70" x2="520.66" y2="79.10" stroke="#4a4a4a" stroke-width="0.7" />
<line x1="520.66" y1="91.20" x2="520.66" y2="99.50" stroke="#4a4a4a" stroke-width="0.7" />
<rect x="519.01" y="79.10" width="3.30" height="12.10" fill="#22BF82" stroke="#333" stroke-width="0.5" />
<line x1="519.01" y1="83.90" x2="522.31" y2="83.90" stroke="#222" stroke-width="0.9" />
<circle cx="520.66" cy="58.50" r="1.20" fill="#222" stroke="none" stroke-width="0" />
<circle cx="520.66" cy="118.70" r="1.20" fill="#222" stroke="none" stroke-width="0" />
<line x1="524.61" y1="35.60" x2="524.61" y2="70.80" stroke="#4a4a4a" stroke-width="0.7" />
<line x1="524.61" y1="94.80" x2="524.61" y2="128.90" stroke="#4a4a4a" stroke-width="0.7" />
<rect x="522.96" y="70.80" width="3.30" height="24.00" fill="#22B2EE" stroke="#333" stroke-width="0.5" />
<line x1="522.96" y1="83.50" x2="526.26" y2="83.50" stroke="#222" stroke-width="0.9" />
<circle cx="524.61" cy="135.50" r="1.20" fill="#222" stroke="none" stroke-width="0" />
<line x1="528.56" y1="34.20" x2="528.56" y2="71.50" stroke="#4a4a4a" stroke-width="0.7" />
<line x1="528.56" y1="96.70" x2="528.56" y2="133.30" stroke="#4a4a4a" stroke-width="0.7" />
<rect x="526.91" y="71.50" width="3.30" height="25.20" fill="#C97BC8" stroke="#333" stroke-width="0.5" />
<line x1="526.91" y1="85.40" x2="530.21" y2="85.40" stroke="#222" stroke-width="0.9" />
<circle cx="528.56" cy="136.90" r="1.20" fill="#222" stroke="none" stroke-width="0" />
<line x1="539.02" y1="49.20" x2="539.02" y2="73.70" stroke="#4a4a4a" stroke-width="0.7" />
<line x1="539.02" y1="90.20" x2="539.02" y2="114.40" stroke="#4a4a4a" stroke-width="0.7" />
<rect x="537.37" y="73.70" width="3.30" height="16.50" fill="#F6776F" stroke="#333" stroke-width="0.5" />
<line x1="537.37" y1="82.00" x2="540.67" y2="82.00" stroke="#222" stroke-width="0.9" />
<line x1="539.02" y1="45.10" x2="539.02" y2="49.20" stroke="#2a2a2a" stroke-width="2.3" stroke-linecap="round"/>
<line x1="539.02" y1="114.40" x2="539.02" y2="136.20" stroke="#2a2a2a" stroke-width="2.3" stroke-linecap="round"/>
<circle cx="539.02" cy="39.60" r="1.20" fill="#222" stroke="none" stroke-width="0" />
<circle cx="539.02" cy="41.20" r="1.20" fill="#222" stroke="none" stroke-width="0" />
<circle cx="539.02" cy="144.20" r="1.20" fill="#222" stroke="none" stroke-width="0" />
<line x1="542.97" y1="54.10" x2="542.97" y2="70.80" stroke="#4a4a4a" stroke-width="0.7" />
<line x1="542.97" y1="86.40" x2="542.97" y2="107.20" stroke="#4a4a4a" stroke-width="0.7" />
<rect x="541.32" y="70.80" width="3.30" height="15.60" fill="#A8A734" stroke="#333" stroke-width="0.5" />
<line x1="541.32" y1="77.40" x2="544.62" y2="77.40" stroke="#222" stroke-width="0.9" />
<circle cx="542.97" cy="42.20" r="1.20" fill="#222" stroke="none" stroke-width="0" />
<line x1="550.87" y1="41.50" x2="550.87" y2="65.70" stroke="#4a4a4a" stroke-width="0.7" />
<line x1="550.87" y1="86.10" x2="550.87" y2="108.40" stroke="#4a4a4a" stroke-width="0.7" />
<rect x="549.22" y="65.70" width="3.30" height="20.40" fill="#22B2EE" stroke="#333" stroke-width="0.5" />
<line x1="549.22" y1="72.30" x2="552.52" y2="72.30" stroke="#222" stroke-width="0.9" />
<circle cx="550.87" cy="117.40" r="1.20" fill="#222" stroke="none" stroke-width="0" />
<line x1="554.82" y1="54.10" x2="554.82" y2="72.00" stroke="#4a4a4a" stroke-width="0.7" />
<line x1="554.82" y1="86.10" x2="554.82" y2="102.60" stroke="#4a4a4a" stroke-width="0.7" />
<rect x="553.17" y="72.00" width="3.30" height="14.10" fill="#C97BC8" stroke="#333" stroke-width="0.5" />
<line x1="553.17" y1="77.40" x2="556.47" y2="77.40" stroke="#222" stroke-width="0.9" />
<circle cx="554.82" cy="47.70" r="1.20" fill="#222" stroke="none" stroke-width="0" />
<circle cx="554.82" cy="113.20" r="1.20" fill="#222" stroke="none" stroke-width="0" />
<circle cx="554.82" cy="118.40" r="1.20" fill="#222" stroke="none" stroke-width="0" />
<circle cx="554.82" cy="134.50" r="1.20" fill="#222" stroke="none" stroke-width="0" />
<line x1="565.28" y1="45.80" x2="565.28" y2="70.80" stroke="#4a4a4a" stroke-width="0.7" />
<line x1="565.28" y1="87.60" x2="565.28" y2="112.30" stroke="#4a4a4a" stroke-width="0.7" />
<rect x="563.63" y="70.80" width="3.30" height="16.80" fill="#F6776F" stroke="#333" stroke-width="0.5" />
<line x1="563.63" y1="79.30" x2="566.93" y2="79.30" stroke="#222" stroke-width="0.9" />
<line x1="565.28" y1="40.70" x2="565.28" y2="45.80" stroke="#2a2a2a" stroke-width="2.3" stroke-linecap="round"/>
<line x1="565.28" y1="112.30" x2="565.28" y2="137.70" stroke="#2a2a2a" stroke-width="2.3" stroke-linecap="round"/>
<circle cx="565.28" cy="33.80" r="1.20" fill="#222" stroke="none" stroke-width="0" />
<circle cx="565.28" cy="37.80" r="1.20" fill="#222" stroke="none" stroke-width="0" />
<circle cx="565.28" cy="142.80" r="1.20" fill="#222" stroke="none" stroke-width="0" />
<circle cx="565.28" cy="146.10" r="1.20" fill="#222" stroke="none" stroke-width="0" />
<line x1="569.23" y1="53.10" x2="569.23" y2="73.70" stroke="#4a4a4a" stroke-width="0.7" />
<line x1="569.23" y1="89.50" x2="569.23" y2="110.10" stroke="#4a4a4a" stroke-width="0.7" />
<rect x="567.58" y="73.70" width="3.30" height="15.80" fill="#A8A734" stroke="#333" stroke-width="0.5" />
<line x1="567.58" y1="82.50" x2="570.88" y2="82.50" stroke="#222" stroke-width="0.9" />
<line x1="573.18" y1="53.10" x2="573.18" y2="70.80" stroke="#4a4a4a" stroke-width="0.7" />
<line x1="573.18" y1="85.40" x2="573.18" y2="94.80" stroke="#4a4a4a" stroke-width="0.7" />
<rect x="571.53" y="70.80" width="3.30" height="14.60" fill="#22BF82" stroke="#333" stroke-width="0.5" />
<line x1="571.53" y1="75.20" x2="574.83" y2="75.20" stroke="#222" stroke-width="0.9" />
<line x1="577.13" y1="34.90" x2="577.13" y2="68.20" stroke="#4a4a4a" stroke-width="0.7" />
<line x1="577.13" y1="91.20" x2="577.13" y2="120.20" stroke="#4a4a4a" stroke-width="0.7" />
<rect x="575.48" y="68.20" width="3.30" height="23.00" fill="#22B2EE" stroke="#333" stroke-width="0.5" />
<line x1="575.48" y1="79.10" x2="578.78" y2="79.10" stroke="#222" stroke-width="0.9" />
<circle cx="577.13" cy="26.50" r="1.20" fill="#222" stroke="none" stroke-width="0" />
<circle cx="577.13" cy="28.40" r="1.20" fill="#222" stroke="none" stroke-width="0" />
<circle cx="577.13" cy="131.10" r="1.20" fill="#222" stroke="none" stroke-width="0" />
<line x1="581.08" y1="30.30" x2="581.08" y2="61.40" stroke="#4a4a4a" stroke-width="0.7" />
<line x1="581.08" y1="86.50" x2="581.08" y2="116.50" stroke="#4a4a4a" stroke-width="0.7" />
<rect x="579.43" y="61.40" width="3.30" height="25.10" fill="#C97BC8" stroke="#333" stroke-width="0.5" />
<line x1="579.43" y1="75.50" x2="582.73" y2="75.50" stroke="#222" stroke-width="0.9" />
<circle cx="581.08" cy="22.50" r="1.20" fill="#222" stroke="none" stroke-width="0" />
<line x1="591.54" y1="44.00" x2="591.54" y2="69.40" stroke="#4a4a4a" stroke-width="0.7" />
<line x1="591.54" y1="86.10" x2="591.54" y2="105.80" stroke="#4a4a4a" stroke-width="0.7" />
<rect x="589.89" y="69.40" width="3.30" height="16.70" fill="#F6776F" stroke="#333" stroke-width="0.5" />
<line x1="589.89" y1="76.20" x2="593.19" y2="76.20" stroke="#222" stroke-width="0.9" />
<circle cx="591.54" cy="41.00" r="1.20" fill="#222" stroke="none" stroke-width="0" />
<circle cx="591.54" cy="115.60" r="1.20" fill="#222" stroke="none" stroke-width="0" />
<circle cx="591.54" cy="131.10" r="1.20" fill="#222" stroke="none" stroke-width="0" />
<line x1="595.49" y1="54.10" x2="595.49" y2="67.90" stroke="#4a4a4a" stroke-width="0.7" />
<line x1="595.49" y1="90.50" x2="595.49" y2="108.40" stroke="#4a4a4a" stroke-width="0.7" />
<rect x="593.84" y="67.90" width="3.30" height="22.60" fill="#A8A734" stroke="#333" stroke-width="0.5" />
<line x1="593.84" y1="81.30" x2="597.14" y2="81.30" stroke="#222" stroke-width="0.9" />
<line x1="599.44" y1="70.00" x2="599.44" y2="75.20" stroke="#4a4a4a" stroke-width="0.7" />
<line x1="599.44" y1="80.30" x2="599.44" y2="83.00" stroke="#4a4a4a" stroke-width="0.7" />
<rect x="597.79" y="75.20" width="3.30" height="5.10" fill="#22BF82" stroke="#333" stroke-width="0.5" />
<line x1="597.79" y1="77.70" x2="601.09" y2="77.70" stroke="#222" stroke-width="0.9" />
<circle cx="599.44" cy="93.80" r="1.20" fill="#222" stroke="none" stroke-width="0" />
<line x1="603.39" y1="45.80" x2="603.39" y2="59.20" stroke="#4a4a4a" stroke-width="0.7" />
<line x1="603.39" y1="88.30" x2="603.39" y2="123.10" stroke="#4a4a4a" stroke-width="0.7" />
<rect x="601.74" y="59.20" width="3.30" height="29.10" fill="#22B2EE" stroke="#333" stroke-width="0.5" />
<line x1="601.74" y1="79.60" x2="605.04" y2="79.60" stroke="#222" stroke-width="0.9" />
<line x1="607.34" y1="47.30" x2="607.34" y2="55.00" stroke="#4a4a4a" stroke-width="0.7" />
<line x1="607.34" y1="76.40" x2="607.34" y2="87.60" stroke="#4a4a4a" stroke-width="0.7" />
<rect x="605.69" y="55.00" width="3.30" height="21.40" fill="#C97BC8" stroke="#333" stroke-width="0.5" />
<line x1="605.69" y1="60.00" x2="608.99" y2="60.00" stroke="#222" stroke-width="0.9" />
<line x1="617.80" y1="44.80" x2="617.80" y2="70.10" stroke="#4a4a4a" stroke-width="0.7" />
<line x1="617.80" y1="87.30" x2="617.80" y2="113.00" stroke="#4a4a4a" stroke-width="0.7" />
<rect x="616.15" y="70.10" width="3.30" height="17.20" fill="#F6776F" stroke="#333" stroke-width="0.5" />
<line x1="616.15" y1="79.30" x2="619.45" y2="79.30" stroke="#222" stroke-width="0.9" />
<line x1="617.80" y1="36.40" x2="617.80" y2="44.80" stroke="#2a2a2a" stroke-width="2.3" stroke-linecap="round"/>
<line x1="617.80" y1="113.00" x2="617.80" y2="123.80" stroke="#2a2a2a" stroke-width="2.3" stroke-linecap="round"/>
<circle cx="617.80" cy="32.30" r="1.20" fill="#222" stroke="none" stroke-width="0" />
<line x1="621.75" y1="53.80" x2="621.75" y2="67.20" stroke="#4a4a4a" stroke-width="0.7" />
<line x1="621.75" y1="86.50" x2="621.75" y2="106.50" stroke="#4a4a4a" stroke-width="0.7" />
<rect x="620.10" y="67.20" width="3.30" height="19.30" fill="#A8A734" stroke="#333" stroke-width="0.5" />
<line x1="620.10" y1="78.50" x2="623.40" y2="78.50" stroke="#222" stroke-width="0.9" />
<circle cx="621.75" cy="36.40" r="1.20" fill="#222" stroke="none" stroke-width="0" />
<line x1="625.70" y1="59.20" x2="625.70" y2="70.50" stroke="#4a4a4a" stroke-width="0.7" />
<line x1="625.70" y1="84.70" x2="625.70" y2="88.30" stroke="#4a4a4a" stroke-width="0.7" />
<rect x="624.05" y="70.50" width="3.30" height="14.20" fill="#22BF82" stroke="#333" stroke-width="0.5" />
<line x1="624.05" y1="78.80" x2="627.35" y2="78.80" stroke="#222" stroke-width="0.9" />
<line x1="629.65" y1="38.60" x2="629.65" y2="68.20" stroke="#4a4a4a" stroke-width="0.7" />
<line x1="629.65" y1="91.50" x2="629.65" y2="115.80" stroke="#4a4a4a" stroke-width="0.7" />
<rect x="628.00" y="68.20" width="3.30" height="23.30" fill="#22B2EE" stroke="#333" stroke-width="0.5" />
<line x1="628.00" y1="83.20" x2="631.30" y2="83.20" stroke="#222" stroke-width="0.9" />
<circle cx="629.65" cy="135.50" r="1.20" fill="#222" stroke="none" stroke-width="0" />
<line x1="633.60" y1="39.60" x2="633.60" y2="68.60" stroke="#4a4a4a" stroke-width="0.7" />
<line x1="633.60" y1="98.20" x2="633.60" y2="103.60" stroke="#4a4a4a" stroke-width="0.7" />
<rect x="631.95" y="68.60" width="3.30" height="29.60" fill="#C97BC8" stroke="#333" stroke-width="0.5" />
<line x1="631.95" y1="84.20" x2="635.25" y2="84.20" stroke="#222" stroke-width="0.9" />
<circle cx="633.60" cy="142.80" r="1.20" fill="#222" stroke="none" stroke-width="0" />
<line x1="478.00" y1="16.45" x2="641.90" y2="16.45" stroke="#aaa" stroke-width="1.0" />
<line x1="478.00" y1="162.40" x2="641.90" y2="162.40" stroke="#808080" stroke-width="1.0" />
<line x1="478.50" y1="15.95" x2="478.50" y2="162.90" stroke="#888" stroke-width="1.1" />
<line x1="641.40" y1="15.95" x2="641.40" y2="162.90" stroke="#808080" stroke-width="1.0" />
<line x1="476.70" y1="131.00" x2="478.50" y2="131.00" stroke="#444" stroke-width="0.6" />
<text x="476.40" y="133.55" font-size="7.0" text-anchor="end" fill="#222" >−2.5</text>
<line x1="476.70" y1="91.30" x2="478.50" y2="91.30" stroke="#444" stroke-width="0.6" />
<text x="476.40" y="93.85" font-size="7.0" text-anchor="end" fill="#222" >0.0</text>
<line x1="476.70" y1="51.60" x2="478.50" y2="51.60" stroke="#444" stroke-width="0.6" />
<text x="476.40" y="54.15" font-size="7.0" text-anchor="end" fill="#222" >2.5</text>
<line x1="494.40" y1="162.40" x2="494.40" y2="164.60" stroke="#444" stroke-width="0.6" />
<text x="494.40" y="170.30" font-size="7.1" text-anchor="middle" fill="#222" >OO</text>
<line x1="520.66" y1="162.40" x2="520.66" y2="164.60" stroke="#444" stroke-width="0.6" />
<text x="520.66" y="170.30" font-size="7.1" text-anchor="middle" fill="#222" >AO</text>
<line x1="546.92" y1="162.40" x2="546.92" y2="164.60" stroke="#444" stroke-width="0.6" />
<text x="546.92" y="170.30" font-size="7.1" text-anchor="middle" fill="#222" >AA</text>
<line x1="573.18" y1="162.40" x2="573.18" y2="164.60" stroke="#444" stroke-width="0.6" />
<text x="573.18" y="170.30" font-size="7.1" text-anchor="middle" fill="#222" >BO</text>
<line x1="599.44" y1="162.40" x2="599.44" y2="164.60" stroke="#444" stroke-width="0.6" />
<text x="599.44" y="170.30" font-size="7.1" text-anchor="middle" fill="#222" >BB</text>
<line x1="625.70" y1="162.40" x2="625.70" y2="164.60" stroke="#444" stroke-width="0.6" />
<text x="625.70" y="170.30" font-size="7.1" text-anchor="middle" fill="#222" >AB</text>
<text x="568.20" y="178.00" font-size="6.6" text-anchor="middle" fill="#111" >ABO Blood type</text>
<text transform="translate(460.4,89.6) rotate(-90)" font-size="5.92" text-anchor="middle" fill="#111">CD209 INT protein level</text>
<text x="645.80" y="97.00" font-size="5.9" text-anchor="start" fill="#111" >Self-reported</text>
<text x="645.80" y="104.20" font-size="5.9" text-anchor="start" fill="#111" >ethnicity</text>
<line x1="649.00" y1="112.30" x2="649.00" y2="119.90" stroke="#555" stroke-width="0.6" />
<rect x="645.30" y="113.35" width="7.60" height="5.50" fill="#F6776F" stroke="#333" stroke-width="0.6" />
<line x1="645.30" y1="116.10" x2="652.90" y2="116.10" stroke="#222" stroke-width="0.8" />
<text x="657.20" y="117.90" font-size="5.0" text-anchor="start" fill="#111" >White</text>
<line x1="649.00" y1="122.30" x2="649.00" y2="129.90" stroke="#555" stroke-width="0.6" />
<rect x="645.30" y="123.35" width="7.60" height="5.50" fill="#A8A734" stroke="#333" stroke-width="0.6" />
<line x1="645.30" y1="126.10" x2="652.90" y2="126.10" stroke="#222" stroke-width="0.8" />
<text x="657.20" y="127.90" font-size="5.0" text-anchor="start" fill="#111" >South Asian</text>
<line x1="649.00" y1="132.30" x2="649.00" y2="139.90" stroke="#555" stroke-width="0.6" />
<rect x="645.30" y="133.35" width="7.60" height="5.50" fill="#22BF82" stroke="#333" stroke-width="0.6" />
<line x1="645.30" y1="136.10" x2="652.90" y2="136.10" stroke="#222" stroke-width="0.8" />
<text x="657.20" y="137.90" font-size="5.0" text-anchor="start" fill="#111" >East Asian</text>
<line x1="649.00" y1="142.30" x2="649.00" y2="149.90" stroke="#555" stroke-width="0.6" />
<rect x="645.30" y="143.35" width="7.60" height="5.50" fill="#22B2EE" stroke="#333" stroke-width="0.6" />
<line x1="645.30" y1="146.10" x2="652.90" y2="146.10" stroke="#222" stroke-width="0.8" />
<text x="657.20" y="147.90" font-size="5.0" text-anchor="start" fill="#111" >Caribbean</text>
<line x1="649.00" y1="152.30" x2="649.00" y2="159.90" stroke="#555" stroke-width="0.6" />
<rect x="645.30" y="153.35" width="7.60" height="5.50" fill="#C97BC8" stroke="#333" stroke-width="0.6" />
<line x1="645.30" y1="156.10" x2="652.90" y2="156.10" stroke="#222" stroke-width="0.8" />
<text x="657.20" y="157.90" font-size="5.0" text-anchor="start" fill="#111" >African</text>
</svg>
</body></html>
